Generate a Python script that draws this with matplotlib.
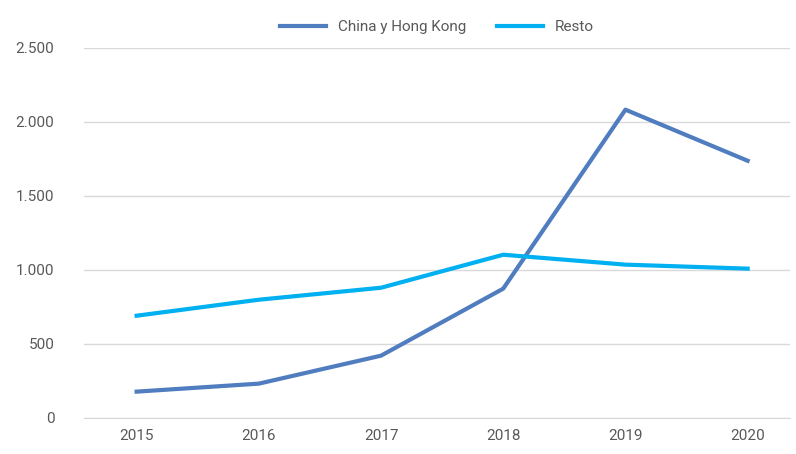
import matplotlib.pyplot as plt
from matplotlib.ticker import FuncFormatter

years = ["2015", "2016", "2017", "2018", "2019", "2020"]
china = [176, 230, 419, 872, 2081, 1736]
resto = [689, 797, 878, 1101, 1034, 1007]

plt.rcParams['font.family'] = ['Roboto', 'DejaVu Sans']

fig, ax = plt.subplots(figsize=(7.96, 4.54), dpi=100)
fig.subplots_adjust(left=0.105, right=0.993, top=0.895, bottom=0.08)

x = range(len(years))
ax.plot(x, china, color='#4F7DBF', lw=3, label='China y Hong Kong')
ax.plot(x, resto, color='#00B0F0', lw=3, label='Resto')

ax.set_xlim(-0.434, 5.35)
ax.set_ylim(0, 2500)
ax.set_yticks(range(0, 2501, 500))
ax.yaxis.set_major_formatter(FuncFormatter(lambda v, p: f"{int(v):,}".replace(",", ".")))
ax.set_xticks(list(x))
ax.set_xticklabels(years)
ax.grid(axis='y', color='#d9d9d9', lw=1)
ax.set_axisbelow(True)
for s in ['top', 'right', 'left']:
    ax.spines[s].set_visible(False)
ax.spines['bottom'].set_color('#d9d9d9')
ax.tick_params(length=0, labelsize=11, colors='#595959', pad=8)
ax.tick_params(axis='y', pad=21)

ax.legend(loc='lower center', bbox_to_anchor=(0.5, 1.0), ncol=2, frameon=False,
          fontsize=11, labelcolor='#595959', handlelength=3, columnspacing=2)

plt.savefig('out.png')
